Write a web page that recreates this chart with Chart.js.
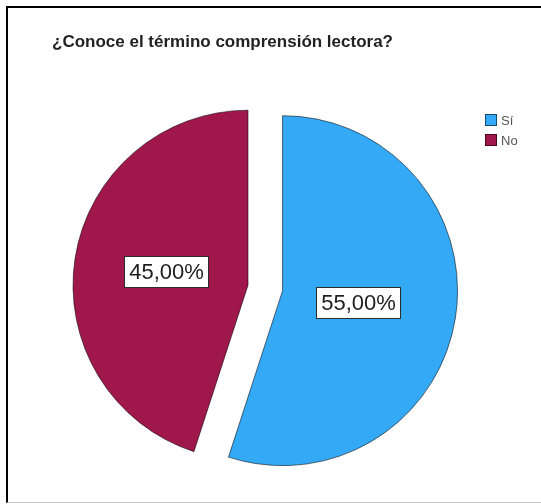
<!DOCTYPE html>
<html lang="es">
<head>
<meta charset="UTF-8">
<title>¿Conoce el término comprensión lectora?</title>
<script src="https://cdn.jsdelivr.net/npm/chart.js"></script>
<style>
    html, body { margin: 0; padding: 0; background: #ffffff; }
    body { width: 541px; height: 504px; position: relative; overflow: hidden; }
    .marco {
        position: absolute;
        left: 6px;
        top: 6px;
        width: 560px;
        height: 494px;
        border-left: 2px solid #000;
        border-top: 2px solid #000;
        border-bottom: 1px solid #c8c8c8;
        pointer-events: none;
    }
    #grafico { position: absolute; left: 0; top: 0; }
</style>
</head>
<body>
<canvas id="grafico" width="541" height="504"></canvas>
<div class="marco"></div>

<script>
// datos de la pregunta
var categorias = ['Sí', 'No'];
var porcentajes = [55, 45];
var colores = ['#34a9f6', '#a0174b'];

function formatoPct(v) {
    return v.toFixed(2).replace('.', ',') + '%';
}

// separa las porciones del centro a lo largo de su ángulo medio
var separarPorciones = {
    id: 'separarPorciones',
    afterDatasetsUpdate: function(chart, args, opts) {
        var arcos = chart.getDatasetMeta(0).data;
        arcos.forEach(function(arco, i) {
            var d = opts.distancias[i] || 0;
            if (!d) return;
            var medio = (arco.startAngle + arco.endAngle) / 2;
            arco.x += Math.cos(medio) * d;
            arco.y += Math.sin(medio) * d;
        });
    }
};

// etiquetas de porcentaje con caja blanca
var etiquetasPct = {
    id: 'etiquetasPct',
    afterDatasetsDraw: function(chart, args, opts) {
        var ctx = chart.ctx;
        var arcos = chart.getDatasetMeta(0).data;
        ctx.save();
        ctx.font = opts.fuente;
        ctx.textAlign = 'center';
        ctx.textBaseline = 'middle';
        arcos.forEach(function(arco, i) {
            var medio = (arco.startAngle + arco.endAngle) / 2;
            var r = arco.outerRadius * opts.distancia[i];
            var x = arco.x + Math.cos(medio) * r;
            var y = arco.y + Math.sin(medio) * r;
            var texto = formatoPct(porcentajes[i]);
            var w = Math.round(ctx.measureText(texto).width + opts.relleno * 2);
            var h = opts.alto;
            var x0 = Math.round(x - w / 2);
            var y0 = Math.round(y - h / 2);
            ctx.fillStyle = '#ffffff';
            ctx.fillRect(x0, y0, w, h);
            ctx.strokeStyle = '#2b2b2b';
            ctx.lineWidth = 1;
            ctx.strokeRect(x0 + 0.5, y0 + 0.5, w - 1, h - 1);
            ctx.fillStyle = '#1e1e1e';
            ctx.fillText(texto, x0 + w / 2, y0 + h / 2 + 1);
        });
        ctx.restore();
    }
};

// leyenda a la derecha
var leyendaLateral = {
    id: 'leyendaLateral',
    afterDraw: function(chart, args, opts) {
        var ctx = chart.ctx;
        var ds = chart.data.datasets[0];
        ctx.save();
        ctx.font = opts.fuente;
        ctx.textBaseline = 'middle';
        ctx.textAlign = 'left';
        chart.data.labels.forEach(function(lab, i) {
            var y = opts.y + i * opts.paso;
            ctx.fillStyle = ds.backgroundColor[i];
            ctx.fillRect(opts.x, y, opts.caja, opts.caja);
            ctx.strokeStyle = 'rgba(0, 0, 0, 0.55)';
            ctx.lineWidth = 1;
            ctx.strokeRect(opts.x + 0.5, y + 0.5, opts.caja - 1, opts.caja - 1);
            ctx.fillStyle = '#555555';
            ctx.fillText(lab, opts.x + opts.caja + 4, y + opts.caja / 2 + 1);
        });
        ctx.restore();
    }
};

var ctx = document.getElementById('grafico').getContext('2d');
var chart = new Chart(ctx, {
    type: 'pie',
    data: {
        labels: categorias,
        datasets: [{
            data: porcentajes,
            backgroundColor: colores,
            borderColor: 'rgba(0, 0, 0, 0.55)',
            borderWidth: 1
        }]
    },
    options: {
        responsive: false,
        animation: false,
        events: [],
        radius: 175,
        layout: {
            padding: { left: 52, right: 97, top: 24, bottom: 10 }
        },
        plugins: {
            legend: { display: false },
            tooltip: { enabled: false },
            title: {
                display: true,
                text: '¿Conoce el término comprensión lectora?',
                align: 'start',
                color: '#222222',
                font: { family: 'Arial, "Liberation Sans", sans-serif', size: 17, weight: 'bold' },
                padding: { top: 8, bottom: 24 }
            },
            separarPorciones: { distancias: [35, 0] },
            etiquetasPct: {
                fuente: '22px Arial, "Liberation Sans", sans-serif',
                distancia: [0.44, 0.47],
                relleno: 5,
                alto: 32
            },
            leyendaLateral: {
                fuente: '13px Arial, "Liberation Sans", sans-serif',
                x: 485,
                y: 114,
                paso: 20,
                caja: 12
            }
        }
    },
    plugins: [separarPorciones, etiquetasPct, leyendaLateral]
});
</script>
</body>
</html>
